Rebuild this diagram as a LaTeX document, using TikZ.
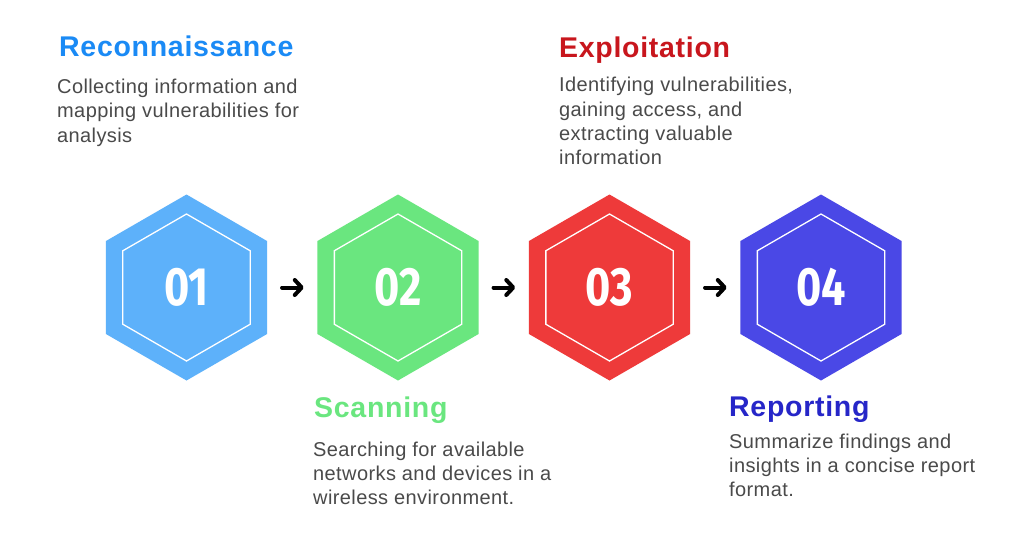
\documentclass[tikz,border=0pt]{standalone}
\usepackage{fontspec}
\setmainfont{Liberation Sans}
\newfontfamily\numfont{Fira Sans}
\newfontfamily\ttlfont[LetterSpace=2.5]{Liberation Sans}
\newfontfamily\bodyfont[LetterSpace=2]{Liberation Sans}
\usetikzlibrary{shapes.geometric,arrows.meta}
\definecolor{hexA}{HTML}{5DB1FA}
\definecolor{hexB}{HTML}{6AE67F}
\definecolor{hexC}{HTML}{EE3A3A}
\definecolor{hexD}{HTML}{4A48E6}
\definecolor{ttlA}{HTML}{1A8AF5}
\definecolor{ttlB}{HTML}{6AE67F}
\definecolor{ttlC}{HTML}{C8161D}
\definecolor{ttlD}{HTML}{2626C8}
\definecolor{bodytxt}{HTML}{4A4A4A}
\newcommand{\bodypar}[1]{\parbox[t]{320pt}{\raggedright #1}}
\begin{document}
\begin{tikzpicture}[x=1pt,y=-1pt,
  outerhex/.style={regular polygon, regular polygon sides=6, shape border rotate=30,
    minimum size=186pt, inner sep=0pt, outer sep=0pt, fill=#1},
  innerhex/.style={regular polygon, regular polygon sides=6, shape border rotate=30,
    minimum size=147pt, inner sep=0pt, outer sep=0pt, draw=white, line width=1.3pt},
  numtxt/.style={text=white, inner sep=0pt, font=\numfont\bfseries\fontsize{54}{54}\selectfont},
  ttl/.style={anchor=base west, inner sep=0pt, text=#1, font=\ttlfont\bfseries\fontsize{28.5}{30}\selectfont},
  body/.style={anchor=base west, inner sep=0pt, text=bodytxt, font=\bodyfont\fontsize{20}{24.3}\selectfont},
  arr/.style={line width=4pt, line cap=round, line join=round,
    -{Straight Barb[length=7pt,width=15pt,line cap=round,line join=round]},
    shorten <=15pt, shorten >=13.7pt}
]
\useasboundingbox (0,0) rectangle (1019,542);
\fill[white] (0,0) rectangle (1019,542);

\node[outerhex=hexA] (h1) at (186.5,287.5) {};
\node[outerhex=hexB] (h2) at (398,287.5) {};
\node[outerhex=hexC] (h3) at (609.5,287.5) {};
\node[outerhex=hexD] (h4) at (821,287.5) {};

\node[innerhex] (i1) at (h1.center) {};
\node[innerhex] (i2) at (h2.center) {};
\node[innerhex] (i3) at (h3.center) {};
\node[innerhex] (i4) at (h4.center) {};

\node[numtxt] (n1) at (h1.center) {\scalebox{0.8}[1]{01}};
\node[numtxt] (n2) at (h2.center) {\scalebox{0.8}[1]{02}};
\node[numtxt] (n3) at (h3.center) {\scalebox{0.8}[1]{03}};
\node[numtxt] (n4) at (h4.center) {\scalebox{0.8}[1]{04}};

\draw[arr] (h1.0) -- (h2.180);
\draw[arr] (h2.0) -- (h3.180);
\draw[arr] (h3.0) -- (h4.180);

\node[ttl=ttlA] (t1) at (59,56.7) {Reconnaissance};
\node[body] (b1) at (57,93.5) {\bodypar{Collecting information and\\mapping vulnerabilities for\\analysis}};

\node[ttl=ttlC] (t3) at (559,57.3) {Exploitation};
\node[body] (b3) at (559,91.7) {\bodypar{Identifying vulnerabilities,\\gaining access, and\\extracting valuable\\information}};

\node[ttl=ttlB] (t2) at (314,417.3) {Scanning};
\node[body] (b2) at (313,456) {\bodypar{Searching for available\\networks and devices in a\\wireless environment.}};

\node[ttl=ttlD] (t4) at (729,416.7) {Reporting};
\node[body] (b4) at (729,448.3) {\bodypar{Summarize findings and\\insights in a concise report\\format.}};
\end{tikzpicture}
\end{document}
